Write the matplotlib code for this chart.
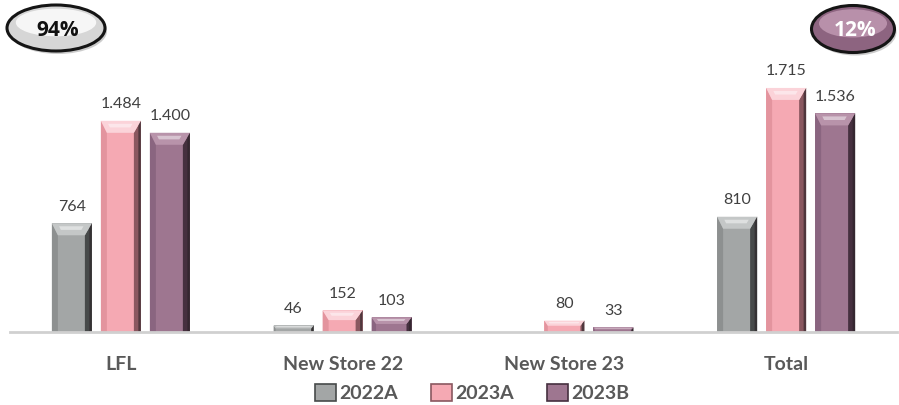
import matplotlib
matplotlib.use("Agg")
import matplotlib.pyplot as plt
from matplotlib.patches import Polygon, Ellipse, Patch

categories = ["LFL", "New Store 22", "New Store 23", "Total"]
series_names = ["2022A", "2023A", "2023B"]
v2022a = [764, 46, None, 810]
v2023a = [1484, 152, 80, 1715]
v2023b = [1400, 103, 33, 1536]
badge_left = "94%"
badge_right = "12%"

# face, top bevel, left bevel, right shadow
palette = {
    "2022A": ("#a3a6a6", "#c4c7c7", "#8d9090", "#474a4a"),
    "2023A": ("#f5a9b3", "#fbd3d9", "#e3949e", "#8a5860"),
    "2023B": ("#9e7690", "#b893aa", "#8a6580", "#46303f"),
}

W, H, DPI = 899, 405, 100
fig = plt.figure(figsize=(W / DPI, H / DPI), dpi=DPI)
ax_left_px, ax_right_px, base_px = 10, 897, 332
ax = fig.add_axes([ax_left_px / W, (H - base_px) / H,
                   (ax_right_px - ax_left_px) / W, base_px / H])
ymax = 2333
ax.set_xlim(-0.5, len(categories) - 0.5)
ax.set_ylim(0, ymax)

# data units per pixel
ux = len(categories) / (ax_right_px - ax_left_px)
uy = ymax / base_px

bar_w = 40 * ux
step = 49 * ux
series = [v2022a, v2023a, v2023b]


def bevel_bar(xc, h, colors):
    face, top, left, right = colors
    x0, x1 = xc - bar_w / 2, xc + bar_w / 2
    hp = h / uy
    t = min(12, hp * 0.45) * uy
    s = min(6, hp * 0.3) * ux
    sr = min(7, hp * 0.35) * ux
    ax.add_patch(Polygon([(x0, 0), (x1, 0), (x1, h), (x0, h)], closed=True,
                         facecolor=face, edgecolor="none", zorder=2))
    ax.add_patch(Polygon([(x0, 0), (x0 + s, 0), (x0 + s, h - t), (x0, h)],
                         closed=True, facecolor=left, edgecolor="none", zorder=3))
    ax.add_patch(Polygon([(x1, 0), (x1 - sr, 0), (x1 - sr, h - t), (x1, h)],
                         closed=True, facecolor=right, edgecolor="none", zorder=3))
    ax.add_patch(Polygon([(x1 - 2.5 * ux, 0), (x1, 0), (x1, h), (x1 - 2.5 * ux, h - 2 * uy)],
                         closed=True, facecolor="#2a2226", edgecolor="none", alpha=0.6, zorder=3))
    ax.add_patch(Polygon([(x0, h), (x1, h), (x1 - sr, h - t), (x0 + s, h - t)],
                         closed=True, facecolor=top, edgecolor="none", zorder=4))
    # specular streak on the top bevel
    ax.add_patch(Polygon([(x0 + s * 1.2, h - t * 0.25), (x1 - sr * 1.2, h - t * 0.25),
                          (x1 - sr * 1.5, h - t * 0.55), (x0 + s * 1.5, h - t * 0.55)],
                         closed=True, facecolor="white", edgecolor="none", alpha=0.45, zorder=5))


for si, (name, vals) in enumerate(zip(series_names, series)):
    for ci, v in enumerate(vals):
        if v is None:
            continue
        xc = ci + (si - 1) * step
        bevel_bar(xc, v, palette[name])
        label = f"{v:,}".replace(",", ".")
        ax.annotate(label, (xc, v), xytext=(0, 7), textcoords="offset points",
                    ha="center", va="bottom", fontsize=11.5, color="#404040",
                    family="Lato")

for sp in ["top", "right", "left"]:
    ax.spines[sp].set_visible(False)
ax.spines["bottom"].set_color("#d0d0d0")
ax.spines["bottom"].set_linewidth(2)
ax.spines["bottom"].set_zorder(6)
ax.set_yticks([])
ax.set_xticks(range(len(categories)))
ax.set_xticklabels(categories, fontsize=14, fontweight="bold", color="#595959",
                   family="Lato")
ax.tick_params(axis="x", length=0, pad=17)
ax.patch.set_alpha(0)

handles = [Patch(facecolor=palette[n][0], edgecolor=palette[n][3], linewidth=1.2)
           for n in series_names]
leg = fig.legend(handles, series_names, loc="center",
                 bbox_to_anchor=(472 / W, 1 - 393 / H), ncol=3, frameon=False,
                 handlelength=1.1, handleheight=1.0, handletextpad=0.15,
                 columnspacing=1.7, prop={"family": "Lato", "weight": "bold", "size": 14})
for txt in leg.get_texts():
    txt.set_color("#595959")

# badges in pixel coordinates
ov = fig.add_axes([0, 0, 1, 1])
ov.set_xlim(0, W)
ov.set_ylim(H, 0)
ov.axis("off")
ov.patch.set_alpha(0)


def badge(cx, cy, w, h, base, light, text, tcolor):
    ov.add_patch(Ellipse((cx + 2, cy + 3), w, h, facecolor="#9a9a9a", edgecolor="none", alpha=0.5))
    ov.add_patch(Ellipse((cx, cy), w, h, facecolor=base, edgecolor="#151515", linewidth=2.2))
    ov.add_patch(Ellipse((cx, cy - h * 0.12), w * 0.82, h * 0.6, facecolor=light,
                         edgecolor="none", alpha=0.8))
    ov.text(cx + 2, cy + 2, text, ha="center", va="center", fontsize=15,
            fontweight="bold", color=tcolor, family="Open Sans")


badge(56, 28, 98, 46, "#d6d6d6", "#ffffff", badge_left, "#111111")
badge(853, 29, 83, 47, "#8d6480", "#c39cb5", badge_right, "white")

fig.savefig("out.png", dpi=DPI)
